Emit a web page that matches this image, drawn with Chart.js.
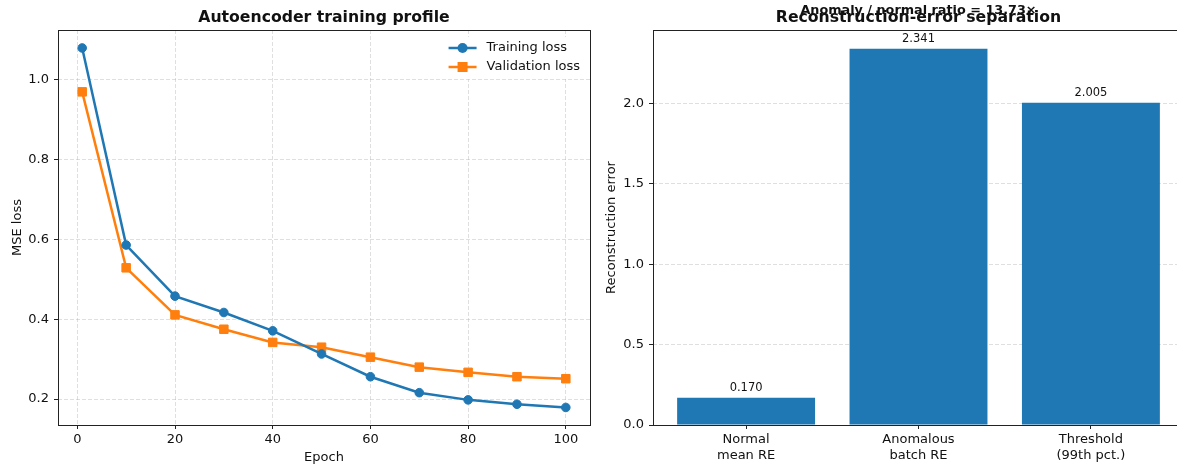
<!DOCTYPE html>
<html>
<head>
<meta charset="utf-8">
<script src="https://cdn.jsdelivr.net/npm/chart.js@4.4.1/dist/chart.umd.min.js"></script>
<style>
  html, body { margin: 0; padding: 0; background: #fff; overflow: hidden; width: 1177px; height: 466px; }
  canvas { position: absolute; top: 0; }
  #loss-chart { left: 0; }
  #re-chart { left: 600px; }
</style>
</head>
<body>
<canvas id="loss-chart" width="600" height="466"></canvas>
<canvas id="re-chart" width="590" height="466"></canvas>
<script>
// datos del entrenamiento
const epochs = [1, 10, 20, 30, 40, 50, 60, 70, 80, 90, 100];
const trainLoss = [1.080, 0.586, 0.458, 0.417, 0.371, 0.313, 0.256, 0.216, 0.198, 0.187, 0.179];
const valLoss = [0.970, 0.529, 0.411, 0.375, 0.342, 0.330, 0.305, 0.280, 0.267, 0.256, 0.251];
const epochTicks = [0, 20, 40, 60, 80, 100];
const lossTicks = [0.2, 0.4, 0.6, 0.8, 1.0];

// datos del error de reconstruccion
const reCategories = [["Normal", "mean RE"], ["Anomalous", "batch RE"], ["Threshold", "(99th pct.)"]];
const reValues = [0.170, 2.341, 2.005];
const reTicks = [0.0, 0.5, 1.0, 1.5, 2.0];
const ratioText = "Anomaly / normal ratio = 13.73\u00d7";

const BLUE = "#1f77b4";
const ORANGE = "#ff7f0e";
const TEXT = "#111";
const GRID = "rgba(176,176,176,0.4)";

Chart.defaults.font.family = "'DejaVu Sans', sans-serif";
Chart.defaults.font.size = 13;
Chart.defaults.color = TEXT;

// marco completo del area (spines)
const spines = {
  id: "spines",
  afterDraw(chart) {
    const { ctx, chartArea: a } = chart;
    ctx.save();
    ctx.strokeStyle = "#222";
    ctx.lineWidth = 1;
    ctx.strokeRect(Math.round(a.left) + 0.5, Math.round(a.top) + 0.5,
      Math.round(a.right - a.left), Math.round(a.bottom - a.top));
    ctx.restore();
  },
};

// titulo tipo matplotlib
const plotTitle = {
  id: "plotTitle",
  afterDraw(chart, args, opts) {
    const { ctx, chartArea: a } = chart;
    const cx = (a.left + a.right) / 2;
    ctx.save();
    ctx.textAlign = "center";
    ctx.textBaseline = "middle";
    ctx.fillStyle = TEXT;
    if (opts.above) {
      ctx.font = "bold 12.8px 'DejaVu Sans'";
      ctx.fillText(opts.above, cx, 11);
    }
    ctx.font = "bold 15.7px 'DejaVu Sans'";
    ctx.fillText(opts.text, cx, 18);
    ctx.restore();
  },
};

// leyenda dentro del area, arriba a la derecha
const insideLegend = {
  id: "insideLegend",
  afterDraw(chart) {
    const { ctx, chartArea: a } = chart;
    const sets = chart.data.datasets;
    ctx.save();
    ctx.font = "13px 'DejaVu Sans'";
    const w = Math.max(...sets.map((d) => ctx.measureText(d.label).width));
    const textX = a.right - 10 - w;
    const lineX0 = textX - 38;
    const lineX1 = textX - 10;
    ctx.fillStyle = "#fff";
    ctx.fillRect(lineX0 - 6, a.top + 7, a.right - 5 - (lineX0 - 6), 42);
    sets.forEach((d, i) => {
      const y = a.top + 18 + i * 19;
      ctx.strokeStyle = d.borderColor;
      ctx.lineWidth = d.borderWidth;
      ctx.beginPath();
      ctx.moveTo(lineX0, y);
      ctx.lineTo(lineX1, y);
      ctx.stroke();
      ctx.fillStyle = d.borderColor;
      const mx = (lineX0 + lineX1) / 2;
      if (d.pointStyle === "rect") {
        ctx.fillRect(mx - 5, y - 5, 10, 10);
      } else {
        ctx.beginPath();
        ctx.arc(mx, y, 5, 0, Math.PI * 2);
        ctx.fill();
      }
      ctx.fillStyle = TEXT;
      ctx.textAlign = "left";
      ctx.textBaseline = "middle";
      ctx.fillText(d.label, textX, y);
    });
    ctx.restore();
  },
};

// etiquetas de valor sobre las barras
const barValues = {
  id: "barValues",
  afterDatasetsDraw(chart) {
    const { ctx } = chart;
    const meta = chart.getDatasetMeta(0);
    ctx.save();
    ctx.font = "11.5px 'DejaVu Sans'";
    ctx.fillStyle = TEXT;
    ctx.textAlign = "center";
    ctx.textBaseline = "bottom";
    meta.data.forEach((bar, i) => {
      ctx.fillText(reValues[i].toFixed(3), bar.x, bar.y - 4);
    });
    ctx.restore();
  },
};

const setTicks = (values) => (scale) => {
  scale.ticks = values.map((v) => ({ value: v }));
};

/**
 * grafico de lineas: perfil de entrenamiento
 */
const lossCtx = document.querySelector("#loss-chart").getContext("2d");
const lossChart = new Chart(lossCtx, {
  type: "line",
  data: {
    datasets: [
      {
        label: "Training loss",
        data: epochs.map((e, i) => ({ x: e, y: trainLoss[i] })),
        borderColor: BLUE,
        backgroundColor: BLUE,
        borderWidth: 2.5,
        pointStyle: "circle",
        pointRadius: 4.3,
        pointBorderWidth: 1,
      },
      {
        label: "Validation loss",
        data: epochs.map((e, i) => ({ x: e, y: valLoss[i] })),
        borderColor: ORANGE,
        backgroundColor: ORANGE,
        borderWidth: 2.5,
        pointStyle: "rect",
        pointRadius: 6,
        pointBorderWidth: 1,
      },
    ],
  },
  options: {
    responsive: false,
    animation: false,
    layout: { padding: { top: 30, right: 10, left: 0, bottom: 0 } },
    plugins: {
      legend: { display: false },
      tooltip: { enabled: false },
      plotTitle: { text: "Autoencoder training profile" },
    },
    scales: {
      x: {
        type: "linear",
        min: -3.95,
        max: 104.95,
        afterBuildTicks: setTicks(epochTicks),
        afterFit: (s) => { s.height = 41; },
        ticks: { padding: 3, maxRotation: 0, autoSkip: false, callback: (v) => String(v) },
        grid: { color: GRID, tickColor: "#222", tickLength: 4, lineWidth: 1 },
        border: { display: false, dash: [4, 2] },
        title: { display: true, text: "Epoch", padding: { top: 0, bottom: 1 } },
      },
      y: {
        min: 0.135,
        max: 1.125,
        afterBuildTicks: setTicks(lossTicks),
        afterFit: (s) => { s.width = 58; },
        ticks: { padding: 5, callback: (v) => v.toFixed(1) },
        grid: { color: GRID, tickColor: "#222", tickLength: 4, lineWidth: 1 },
        border: { display: false, dash: [4, 2] },
        title: { display: true, text: "MSE loss", padding: { top: 9.5, bottom: 0 } },
      },
    },
  },
  plugins: [spines, plotTitle, insideLegend],
});

/**
 * grafico de barras: separacion del error
 */
const reCtx = document.querySelector("#re-chart").getContext("2d");
const reChart = new Chart(reCtx, {
  type: "bar",
  data: {
    datasets: [
      {
        label: "Reconstruction error",
        data: reValues.map((v, i) => ({ x: i, y: v })),
        backgroundColor: BLUE,
        barPercentage: 0.8,
        categoryPercentage: 1,
      },
    ],
  },
  options: {
    responsive: false,
    animation: false,
    layout: { padding: { top: 30, right: 6, left: 0, bottom: 0 } },
    plugins: {
      legend: { display: false },
      tooltip: { enabled: false },
      plotTitle: { text: "Reconstruction-error separation", above: ratioText },
    },
    scales: {
      x: {
        type: "linear",
        offset: false,
        min: -0.54,
        max: 2.54,
        afterBuildTicks: setTicks([0, 1, 2]),
        afterFit: (s) => { s.height = 41; },
        ticks: { padding: 3, maxRotation: 0, autoSkip: false, callback: (v) => reCategories[v] },
        grid: { offset: false, drawOnChartArea: false, tickColor: "#222", tickLength: 4 },
        border: { display: false },
      },
      y: {
        min: 0,
        max: 2.458,
        z: 1,
        afterBuildTicks: setTicks(reTicks),
        afterFit: (s) => { s.width = 53; },
        ticks: { padding: 5, callback: (v) => v.toFixed(1) },
        grid: { color: GRID, tickColor: "#222", tickLength: 4, lineWidth: 1 },
        border: { display: false, dash: [4, 2] },
        title: { display: true, text: "Reconstruction error", padding: { top: 3.5, bottom: 0 } },
      },
    },
  },
  plugins: [spines, plotTitle, barValues],
});
</script>
</body>
</html>
